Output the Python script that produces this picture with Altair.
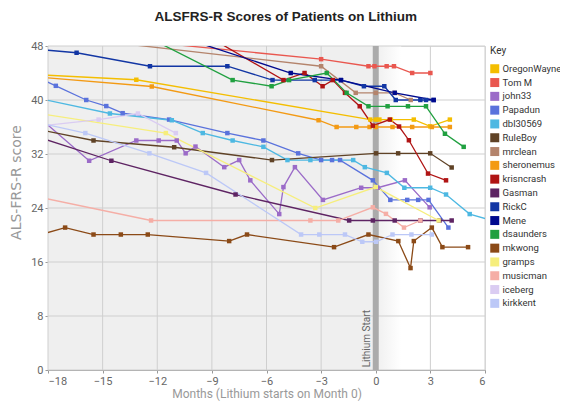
import altair as alt
import pandas as pd

PATIENTS = ["OregonWayne", "Tom M", "john33", "Papadun", "dbl30569", "RuleBoy",
            "mrclean", "sheronemus", "krisncrash", "Gasman", "RickC", "Mene",
            "dsaunders", "mkwong", "gramps", "musicman", "iceberg", "kirkkent"]
COLORS = ["#F4BE00", "#E9574F", "#9B6BC8", "#5A72DC", "#4DB8E2", "#5F4226",
          "#B4846C", "#F39A14", "#B01414", "#5E2463", "#1236A4", "#000A8E",
          "#20A040", "#8B4A17", "#F6EE7C", "#F5AEA6", "#DACCF2", "#BCC8F7"]

X_TICKS = [-18, -15, -12, -9, -6, -3, 0, 3, 6]
Y_TICKS = [0, 8, 16, 24, 32, 40, 48]

OREGONWAYNE_MONTH = [-19, -13.15, -0.3, 0.0, 0.2, 0.83, 2.09, 2.99, 4.07]
OREGONWAYNE_SCORE = [43.8, 43.0, 37.1, 37.1, 37.1, 37.1, 37.1, 36.1, 37.1]

TOM_M_MONTH = [-14, -3.0, -0.4, -0.07, 0.6, 1.0, 2.0, 3.0]
TOM_M_SCORE = [49.0, 46.05, 45.0, 45.0, 45.0, 45.0, 44.0, 44.0]

JOHN33_MONTH = [-19, -15.74, -13.15, -11.92, -10.93, -10.44, -9.9, -8.32, -7.5, -6.89,
                -5.3, -5.07, -4.44, -2.9, -0.8, 0.1, 1.6, 2.96]
JOHN33_SCORE = [38.6, 31.0, 34.0, 34.0, 34.0, 32.1, 33.1, 30.05, 31.1, 28.1,
                23.1, 27.1, 30.05, 25.2, 27.0, 27.0, 28.1, 24.1]

PAPADUN_MONTH = [-19, -17.57, -15.9, -14.8, -13.9, -11.35, -8.15, -6.17, -4.26, -3.0,
                 -2.4, -1.96, -0.16, 0.8, 1.73, 2.33, 2.9, 3.99]
PAPADUN_SCORE = [43.9, 42.1, 40.0, 39.1, 38.05, 37.1, 35.1, 34.0, 32.1, 31.1,
                 31.1, 31.1, 28.1, 25.2, 25.2, 25.2, 25.2, 21.1]

DBL30569_MONTH = [-19, -14.6, -11.2, -9.5, -7.86, -6.17, -4.85, -3.59, -1.24, -0.6,
                  0.61, 1.57, 2.99, 3.86, 5.16, 6.3]
DBL30569_SCORE = [40.5, 38.0, 37.0, 35.1, 34.0, 33.06, 31.1, 31.1, 31.1, 30.05,
                  29.2, 27.0, 27.0, 26.0, 23.1, 22.2]

RULEBOY_MONTH = [-19, -15.5, -11.07, -5.7, 0.02, 1.23, 2.99, 4.17]
RULEBOY_SCORE = [35.9, 34.0, 33.0, 31.1, 32.1, 32.1, 32.1, 30.0]

MRCLEAN_MONTH = [-16, -3.0, -1.1, 0.0, 1.04, 1.92]
MRCLEAN_SCORE = [49.0, 45.0, 41.06, 41.06, 41.06, 40.0]

SHERONEMUS_MONTH = [-19, -12.3, -3.14, -2.15, -1.07, -0.34, 0.0, 0.92, 2.0, 3.08, 4.07]
SHERONEMUS_SCORE = [43.5, 42.0, 37.0, 36.0, 36.0, 36.0, 36.0, 36.0, 36.0, 36.0, 36.0]

KRISNCRASH_MONTH = [-9, -5.07, -3.91, -2.92, -2.36, -1.69, -0.88, -0.16, 0.77, 1.28,
                    1.82, 2.87, 3.86]
KRISNCRASH_SCORE = [49.1, 42.95, 44.0, 42.04, 42.95, 41.06, 39.07, 36.2, 37.1, 36.07,
                    34.04, 29.1, 28.1]

GASMAN_MONTH = [-19, -14.52, -7.7, -1.46, -0.16, 1.04, 2.45, 3.5, 4.17]
GASMAN_SCORE = [34.9, 31.0, 26.0, 22.15, 22.15, 22.15, 22.15, 22.15, 22.15]

RICKC_MONTH = [-19, -16.43, -12.4, -8.15, -5.67, -3.35, -1.91, -0.65, 0.47, 1.1,
               2.45, 2.76, 3.18]
RICKC_SCORE = [47.6, 47.0, 45.0, 45.0, 42.95, 42.95, 42.95, 42.04, 42.04, 40.0,
               40.0, 40.0, 40.0]

MENE_MONTH = [-10, -4.67, -1.91, 1.04, 3.18]
MENE_SCORE = [48.7, 44.0, 42.95, 41.06, 40.0]

DSAUNDERS_MONTH = [-12, -7.86, -5.72, -4.76, -2.69, -1.6, -0.4, 0.65, 1.77, 2.76, 3.8, 4.83]
DSAUNDERS_SCORE = [48.6, 42.95, 42.04, 42.95, 44.0, 41.06, 39.07, 39.07, 39.07, 39.07,
                   35.0, 33.06]

MKWONG_MONTH = [-19, -17.06, -15.5, -14.0, -12.52, -8.05, -7.07, -2.29, -0.4, 1.24,
                1.91, 2.09, 3.08, 3.66, 5.07]
MKWONG_SCORE = [19.6, 21.1, 20.07, 20.07, 20.07, 19.1, 20.07, 18.2, 20.07, 19.1,
                15.1, 19.1, 21.1, 18.2, 18.2]

GRAMPS_MONTH = [-19, -11.53, -3.32, 0.0, 3.45]
GRAMPS_SCORE = [38.2, 35.1, 24.0, 27.1, 22.15]

MUSICMAN_MONTH = [-19, -12.34, -3.59, -2.06, -0.16, 0.56, 1.55, 2.45]
MUSICMAN_SCORE = [25.9, 22.15, 22.15, 22.15, 24.1, 23.13, 21.1, 22.15]

ICEBERG_MONTH = [-19, -15.22, -13.06, -10.98]
ICEBERG_SCORE = [36.0, 37.1, 38.0, 35.1]

KIRKKENT_MONTH = [-19, -15.95, -12.43, -9.32, -4.1, -3.1, -1.69, -0.74, 0.02, 0.92,
                  1.96, 3.08]
KIRKKENT_SCORE = [36.9, 35.1, 32.1, 29.2, 20.07, 20.07, 20.07, 19.0, 19.0, 20.07,
                  20.07, 20.07]

SERIES = {
    "OregonWayne": (OREGONWAYNE_MONTH, OREGONWAYNE_SCORE),
    "Tom M": (TOM_M_MONTH, TOM_M_SCORE),
    "john33": (JOHN33_MONTH, JOHN33_SCORE),
    "Papadun": (PAPADUN_MONTH, PAPADUN_SCORE),
    "dbl30569": (DBL30569_MONTH, DBL30569_SCORE),
    "RuleBoy": (RULEBOY_MONTH, RULEBOY_SCORE),
    "mrclean": (MRCLEAN_MONTH, MRCLEAN_SCORE),
    "sheronemus": (SHERONEMUS_MONTH, SHERONEMUS_SCORE),
    "krisncrash": (KRISNCRASH_MONTH, KRISNCRASH_SCORE),
    "Gasman": (GASMAN_MONTH, GASMAN_SCORE),
    "RickC": (RICKC_MONTH, RICKC_SCORE),
    "Mene": (MENE_MONTH, MENE_SCORE),
    "dsaunders": (DSAUNDERS_MONTH, DSAUNDERS_SCORE),
    "mkwong": (MKWONG_MONTH, MKWONG_SCORE),
    "gramps": (GRAMPS_MONTH, GRAMPS_SCORE),
    "musicman": (MUSICMAN_MONTH, MUSICMAN_SCORE),
    "iceberg": (ICEBERG_MONTH, ICEBERG_SCORE),
    "kirkkent": (KIRKKENT_MONTH, KIRKKENT_SCORE),
}

rows = []
for name, (ms, ss) in SERIES.items():
    for m, s in zip(ms, ss):
        rows.append({"patient": name, "month": m, "score": s})
df = pd.DataFrame(rows)

W, H = 437, 324
PAD_L, PAD_T = 40, 38
TOTAL_W, TOTAL_H = 552, 394

xscale = alt.Scale(domain=[-18, 6], nice=False, zero=False)
yscale = alt.Scale(domain=[0, 48], nice=False, zero=False)
cscale = alt.Scale(domain=PATIENTS, range=COLORS)

X_AXIS = alt.Axis(values=X_TICKS, title="Months (Lithium starts on Month 0)")
Y_AXIS = alt.Axis(values=Y_TICKS, title="ALS-FRS-R score")


def X(field="month"):
    return alt.X(f"{field}:Q", scale=xscale, axis=X_AXIS)


def Y(field="score"):
    return alt.Y(f"{field}:Q", scale=yscale, axis=Y_AXIS)


bg = alt.Chart(pd.DataFrame({"month": [-18], "month2": [0], "score": [0], "score2": [48]})).mark_rect(
    color="#EFEFEF").encode(x=X(), x2="month2", y=Y(), y2="score2")

fade = alt.Chart(pd.DataFrame({"month": [0], "month2": [1.4], "score": [0], "score2": [48]})).mark_rect(
    fill=alt.Gradient(gradient="linear",
                      stops=[alt.GradientStop(color="#EFEFEF", offset=0),
                             alt.GradientStop(color="#FFFFFF", offset=1)],
                      x1=0, x2=1, y1=0, y2=0)).encode(x=X(), x2="month2", y=Y(), y2="score2")

xgrid = alt.Chart(pd.DataFrame({"month": X_TICKS})).mark_rule(
    color="#CFCFCF", strokeWidth=1).encode(x=X())
ygrid = alt.Chart(pd.DataFrame({"score": Y_TICKS})).mark_rule(
    color="#CFCFCF", strokeWidth=1).encode(y=Y())

band = alt.Chart(pd.DataFrame({"month": [0]})).mark_rule(
    color="#ABABAB", strokeWidth=6).encode(x=X())

label = alt.Chart(pd.DataFrame({"month": [0], "score": [0.4], "t": ["Lithium Start"]})).mark_text(
    angle=270, align="left", baseline="bottom", dy=-4, fontSize=10, font="Roboto",
    color="#666666").encode(x=X(), y=Y(), text="t:N")

lines = alt.Chart(df).mark_line(strokeWidth=1.3, clip=True).encode(
    x=X(), y=Y(),
    color=alt.Color("patient:N", scale=cscale, legend=None),
)

points = alt.Chart(df).mark_point(shape="square", filled=True, size=20, opacity=1, clip=True).encode(
    x=X(), y=Y(),
    color=alt.Color("patient:N", scale=cscale, legend=alt.Legend(title="Key")),
)

chart = alt.layer(bg, fade, xgrid, ygrid, band, label, lines, points).resolve_legend(
    color="independent"
).properties(
    width=W, height=H,
    padding={"left": PAD_L, "top": PAD_T, "right": TOTAL_W - PAD_L - W,
             "bottom": TOTAL_H - PAD_T - H},
    autosize=alt.AutoSizeParams(type="none"),
    title=alt.Title("ALSFRS-R Scores of Patients on Lithium", font="Liberation Sans",
                    fontSize=13.5, fontWeight="bold", color="#222222", anchor="middle",
                    frame="bounds", offset=17),
).configure_view(stroke=None).configure(background="white").configure_axis(
    grid=False, titleColor="#999999", titleFont="Roboto", titleFontSize=12,
    titleFontWeight="normal", labelColor="#666666", labelFont="Roboto", labelFontSize=11,
    domainColor="#999999", tickColor="#999999", tickSize=3, labelPadding=2,
).configure_axisX(titlePadding=2).configure_axisY(
    titlePadding=7, titleFont="DejaVu Sans", titleFontSize=14, titleY=136,
).configure_legend(
    orient="right", offset=5, symbolType="square", symbolSize=81, symbolStrokeWidth=0,
    labelFont="Roboto", labelFontSize=9.5, labelColor="#333333", titleFont="Roboto",
    titleFontSize=10, titleFontWeight="normal", titleColor="#333333", titlePadding=8,
    rowPadding=2.8, labelOffset=3, labelLimit=100, padding=0,
)

chart.save("out.html", embed_options={"renderer": "svg", "actions": False})
